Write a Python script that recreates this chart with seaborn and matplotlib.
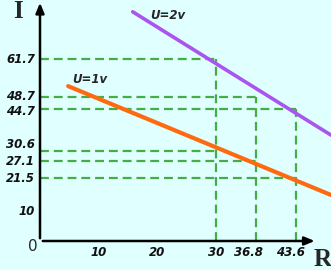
import matplotlib
matplotlib.use("Agg")
import matplotlib.pyplot as plt
import seaborn as sns
import pandas as pd

# data
r_marks = [30, 36.8, 43.6]
i_u1 = [30.6, 27.1, 21.5]
i_u2 = [61.7, 48.7, 44.7]
u1_R = [4.8, 49.6]
u1_I = [52.5, 15.6]
u2_R = [15.8, 49.6]
u2_I = [77.7, 35.9]
x_ticks = [10, 20, 30, 36.8, 43.6]
x_tick_labels = ["10", "20", "30", "36.8", "43.6"]
y_ticks = [10, 21.5, 27.1, 30.6, 44.7, 48.7, 61.7]
y_tick_labels = ["10", "21.5", "27.1", "30.6", "44.7", "48.7", "61.7"]
x_minor = [40.7]
y_minor = [40.8, 51, 71.7]

# label nudges in pixels (layout only)
x_label_dx = [0, 0, 0, -7, -5]
y_label_dy = [0.5, -1.4, -0.7, 6, -2.7, 1, -1]

sns.set_style("white")
W, H = 331, 270
PT = 0.72
fig = plt.figure(figsize=(W / 100, H / 100), dpi=100)
bg = "#e0ffff"
fig.patch.set_facecolor(bg)
ax = fig.add_axes([40 / W, 29 / H, 1 - 40 / W, 241 / H])
ax.set_facecolor(bg)
ax.set_xlim(0, 49.6)
ax.set_ylim(0, 81.7)

green = "#45ad45"
for rv, i1, i2 in zip(r_marks, i_u1, i_u2):
    top = max(i1, i2)
    ax.plot([rv, rv], [0, top], color=green, lw=1.6, dashes=(4, 2.2), zorder=1)
for rv, iv in zip(r_marks, i_u1):
    ax.plot([0, rv], [iv, iv], color=green, lw=1.6, dashes=(4, 2.2), zorder=1)
for rv, iv in zip(r_marks, i_u2):
    ax.plot([0, rv], [iv, iv], color=green, lw=1.6, dashes=(4, 2.2), zorder=1)

df1 = pd.DataFrame({"R": u1_R, "I": u1_I})
df2 = pd.DataFrame({"R": u2_R, "I": u2_I})
sns.lineplot(data=df1, x="R", y="I", ax=ax, color="#ff6a10", lw=3.0, zorder=3)
sns.lineplot(data=df2, x="R", y="I", ax=ax, color="#aa55ee", lw=2.6, zorder=3)

for s in ["top", "right", "left", "bottom"]:
    ax.spines[s].set_visible(False)

# axes with arrows
ax.annotate("", xy=(47.3, 0), xytext=(0, 0), xycoords="data",
            arrowprops=dict(arrowstyle="-|>,head_length=0.6,head_width=0.25", color="black", lw=1.8),
            annotation_clip=False, zorder=5)
ax.annotate("", xy=(0, 81.7), xytext=(0, 0), xycoords="data",
            arrowprops=dict(arrowstyle="-|>,head_length=0.6,head_width=0.25", color="black", lw=1.8),
            annotation_clip=False, zorder=5)

ax.set_xticks(x_ticks)
ax.set_yticks(y_ticks)
ax.set_xticklabels([])
ax.set_yticklabels([])
ax.set_xticks(x_minor, minor=True)
ax.set_yticks(y_minor, minor=True)
ax.tick_params(which="both", direction="inout", length=8, width=1.4, color="black")
ax.set_xlabel("")
ax.set_ylabel("")

lab_kw = dict(fontsize=8.5, fontweight="bold", fontstyle="italic", color="#111111",
              textcoords="offset points", annotation_clip=False)
for v, t, dx in zip(x_ticks, x_tick_labels, x_label_dx):
    ax.annotate(t, xy=(v, 0), xycoords=("data", "axes fraction"),
                xytext=(dx * PT, -4.5 * PT), ha="center", va="top", **lab_kw)
for v, t, dy in zip(y_ticks, y_tick_labels, y_label_dy):
    ax.annotate(t, xy=(0, v), xycoords=("axes fraction", "data"),
                xytext=(-5 * PT, dy * PT), ha="right", va="center", **lab_kw)

fig.text(17.5 / W, 1 - 11 / H, "I", fontsize=18, fontweight="bold",
         family="Liberation Serif", ha="center", va="center")
fig.text(314 / W, 1 - 259 / H, "R", fontsize=18, fontweight="bold",
         family="Liberation Serif", ha="left", va="center")
fig.text(33 / W, 1 - 246.5 / H, "0", fontsize=11, ha="center", va="center")

ax.text(8.5, 54.9, "U=1v", fontsize=8.5, fontweight="bold", fontstyle="italic",
        ha="center", va="center")
ax.text(21.8, 76.3, "U=2v", fontsize=8.5, fontweight="bold", fontstyle="italic",
        ha="center", va="center")

fig.savefig("out.png", dpi=100, facecolor=bg)
